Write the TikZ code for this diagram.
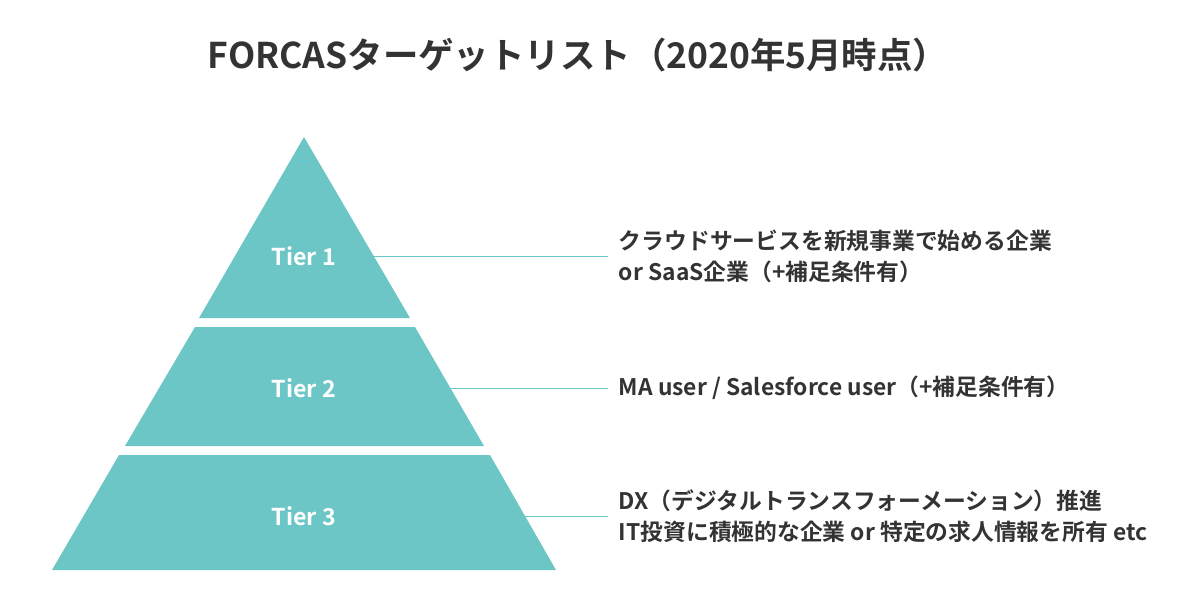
\documentclass[tikz,border=0pt]{standalone}
\usepackage{fontspec}
\setmainfont{Noto Sans CJK JP}[BoldFont={* Bold}]
\usepackage{xcolor}
\definecolor{tierteal}{HTML}{6CC6C6}
\definecolor{darktext}{HTML}{333333}

\begin{document}
\begin{tikzpicture}[x=0.025cm, y=-0.025cm,
    tier/.style={fill=tierteal, draw=none},
    tierlabel/.style={text=white, font=\fontsize{16.5}{18}\selectfont\bfseries},
    desc/.style={text=darktext, anchor=west, align=left, font=\fontsize{16.2}{22}\selectfont\bfseries},
    leader/.style={draw=tierteal, line width=0.5pt}]
					\useasboundingbox (0,0) rectangle (1200,613);
					\node[text=darktext, font=\fontsize{25.2}{30}\selectfont\bfseries] (title) at (578,55) {FORCASターゲットリスト（2020年5月時点）};
					
					\fill[tier] (304,137) -- (410,318) -- (199,318) -- cycle;
					\fill[tier] (195,327) -- (415,327) -- (484,446) -- (125,446) -- cycle;
					\fill[tier] (119,455) -- (490,455) -- (556,570) -- (52,570) -- cycle;
					
					\foreach \n/\y in {1/256, 2/388, 3/516}
					{
						\node[tierlabel] (tier\n) at (304,\y) {Tier \n};
						\coordinate (end\n) at (608,\y);
						\draw[leader] (tier\n.east) ++(14,0) -- (end\n);
					}
					
					\node[desc] (desc1) at (end1) [xshift=0.15cm] {クラウドサービスを新規事業で始める企業\\or SaaS企業（+補足条件有）};
					\node[desc] (desc2) at (end2) [xshift=0.15cm] {MA user / Salesforce user（+補足条件有）};
					\node[desc] (desc3) at (end3) [xshift=0.15cm] {DX（デジタルトランスフォーメーション）推進\\IT投資に積極的な企業 or 特定の求人情報を所有 etc};
				\end{tikzpicture}
\end{document}
